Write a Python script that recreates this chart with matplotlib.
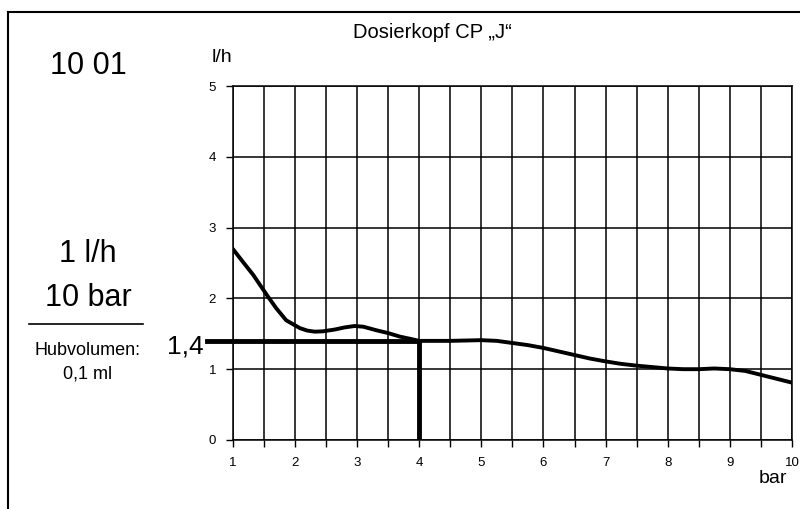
import matplotlib
matplotlib.use("Agg")
import matplotlib.pyplot as plt
from matplotlib.lines import Line2D
import numpy as np

plt.rcParams['font.family'] = ['Liberation Sans', 'DejaVu Sans']

# curve (bar, l/h)
pressure = [1.0, 1.15, 1.33, 1.57, 1.7, 1.86, 2.08, 2.2, 2.32, 2.45, 2.64, 2.8, 2.96,
            3.1, 3.31, 3.5, 3.69, 3.85, 4.0, 4.5, 5.0, 5.25, 5.5, 5.75, 6.0, 6.25,
            6.5, 6.75, 7.0, 7.25, 7.5, 7.75, 8.0, 8.25, 8.5, 8.75, 9.0, 9.25, 9.5,
            9.75, 10.0]
flow = [2.70, 2.53, 2.33, 2.02, 1.86, 1.69, 1.58, 1.545, 1.53, 1.535, 1.56, 1.59,
        1.61, 1.60, 1.55, 1.51, 1.46, 1.43, 1.40, 1.40, 1.41, 1.40, 1.37, 1.34,
        1.30, 1.25, 1.20, 1.15, 1.11, 1.075, 1.05, 1.03, 1.01, 1.00, 1.00, 1.01,
        1.00, 0.975, 0.92, 0.865, 0.81]
op_pressure = 4
op_flow = 1.4

x_major = np.arange(1, 11)
x_minor = np.arange(1.5, 10, 1.0)
y_ticks = np.arange(0, 6)

fig = plt.figure(figsize=(8, 5.09), dpi=100)
ax = fig.add_axes([0.291, 0.1356, 0.699, 0.6954])

ax.plot(pressure, flow, color='black', lw=2.8, solid_capstyle='round', solid_joinstyle='round')
ax.plot([0.58, op_pressure], [op_flow, op_flow], color='black', lw=3.5, clip_on=False)
ax.plot([op_pressure, op_pressure], [op_flow, 0], color='black', lw=3.5)

ax.set_xlim(1, 10)
ax.set_ylim(0, 5)
ax.set_xticks(x_major)
ax.set_xticks(x_minor, minor=True)
ax.set_yticks(y_ticks)
ax.set_xticklabels([str(v) for v in x_major])
ax.set_yticklabels([str(v) for v in y_ticks])
ax.tick_params(axis='both', which='both', direction='out', length=5, width=1,
               labelsize=9.5, color='black')
ax.tick_params(axis='x', pad=7)
ax.tick_params(axis='y', pad=7)
ax.grid(True, which='both', axis='x', color='black', lw=1.1)
ax.grid(True, which='major', axis='y', color='black', lw=1.1)
for s in ax.spines.values():
    s.set_linewidth(1.1)

fig.text(0.540, 0.937, 'Dosierkopf CP \u201eJ\u201c', ha='center', va='center', fontsize=14.5)
fig.text(0.277, 0.888, 'l/h', ha='center', va='center', fontsize=14)
fig.text(0.966, 0.060, 'bar', ha='center', va='center', fontsize=14)
fig.text(0.110, 0.870, '10 01', ha='center', va='center', fontsize=22)
fig.text(0.110, 0.501, '1 l/h', ha='center', va='center', fontsize=22)
fig.text(0.110, 0.415, '10 bar', ha='center', va='center', fontsize=22)
fig.add_artist(Line2D([0.036, 0.179], [0.363, 0.363], color='black', lw=1.2))
fig.text(0.110, 0.312, 'Hubvolumen:', ha='center', va='center', fontsize=13)
fig.text(0.110, 0.265, '0,1 ml', ha='center', va='center', fontsize=13)
fig.text(0.232, 0.320, '1,4', ha='center', va='center', fontsize=19)

# frame lines (top and left)
fig.add_artist(Line2D([0.01, 1.0], [0.976, 0.976], color='black', lw=1.5))
fig.add_artist(Line2D([0.01, 0.01], [0.0, 0.976], color='black', lw=1.5))

fig.savefig('out.png', dpi=100)
